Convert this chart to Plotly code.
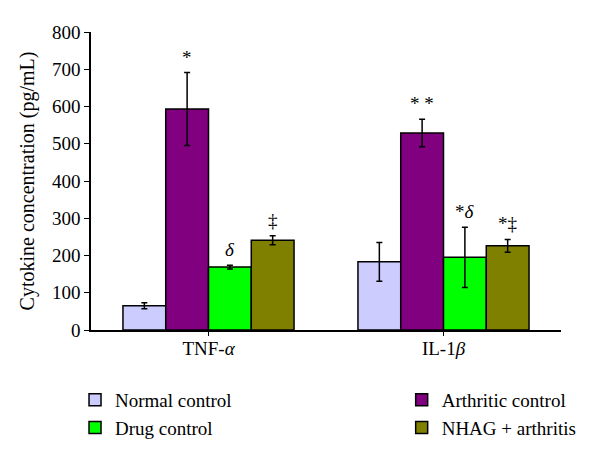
import plotly.graph_objects as go

categories = ["TNF-<i>α</i>", "IL-1<i>β</i>"]
groups = ["Normal control", "Arthritic control", "Drug control", "NHAG + arthritis"]
colors = ["#CCCCFF", "#800080", "#00FF00", "#808000"]
values = {
    "Normal control": [65, 183],
    "Arthritic control": [593, 529],
    "Drug control": [169, 195],
    "NHAG + arthritis": [241, 226],
}
errors = {
    "Normal control": [8, 52],
    "Arthritic control": [98, 37],
    "Drug control": [5, 81],
    "NHAG + arthritis": [12, 17],
}
marks = {
    "Normal control": ["", ""],
    "Arthritic control": ["*", "* *"],
    "Drug control": ["<i>δ</i>", "*<i>δ</i>"],
    "NHAG + arthritis": ["‡", "*‡"],
}
legend_of = {"Normal control": "legend", "Drug control": "legend",
             "Arthritic control": "legend2", "NHAG + arthritis": "legend2"}

FONT = "Liberation Serif"
FS = 19
bargap = 0.272

fig = go.Figure()
for g, c in zip(groups, colors):
    fig.add_trace(go.Bar(
        name=g, x=[0, 1], y=values[g],
        marker=dict(color=c, line=dict(color="black", width=1.5)),
        error_y=dict(type="data", array=errors[g], color="black", thickness=1.5, width=3),
        legend=legend_of[g], legendgroup=g,
    ))

bw = (1 - bargap) / len(groups)
for i, g in enumerate(groups):
    for j in range(2):
        if marks[g][j]:
            fig.add_annotation(
                x=j + (i - 1.5) * bw, y=values[g][j] + errors[g][j],
                text=marks[g][j], showarrow=False, yanchor="bottom", yshift=3,
                font=dict(family=FONT, size=FS, color="black"),
            )

# the page body has an 8px margin, so the figure is sized/offset to compensate
fig.update_layout(
    width=584, height=443,
    margin=dict(l=83, r=31, t=24, b=121, autoexpand=False),
    paper_bgcolor="white", plot_bgcolor="white",
    barmode="group", bargap=bargap, bargroupgap=0,
    font=dict(family=FONT, size=FS, color="black"),
    showlegend=True,
    legend=dict(x=-0.034, xanchor="left", y=-0.171, yanchor="top", bgcolor="rgba(0,0,0,0)",
                tracegroupgap=0, font=dict(family=FONT, size=FS), itemwidth=30),
    legend2=dict(x=0.661, xanchor="left", y=-0.171, yanchor="top", bgcolor="rgba(0,0,0,0)",
                 tracegroupgap=0, font=dict(family=FONT, size=FS), itemwidth=30),
    xaxis=dict(
        tickmode="array", tickvals=[0, 1], ticktext=categories,
        range=[-0.5, 1.5], showline=True, linecolor="black", linewidth=1.5,
        ticks="outside", tickson="boundaries", ticklen=4, tickcolor="black",
        showgrid=False, zeroline=False, tickfont=dict(family=FONT, size=FS),
        ticklabelstandoff=-4,
    ),
    yaxis=dict(
        range=[0, 800], dtick=100, showline=True, linecolor="black", linewidth=1.5,
        ticks="outside", ticklen=5, tickcolor="black", showgrid=False, zeroline=False,
        tickfont=dict(family=FONT, size=FS),
        title=dict(text="Cytokine concentration (pg/mL)", font=dict(family=FONT, size=20), standoff=12),
    ),
)

fig.write_html("out.html")
